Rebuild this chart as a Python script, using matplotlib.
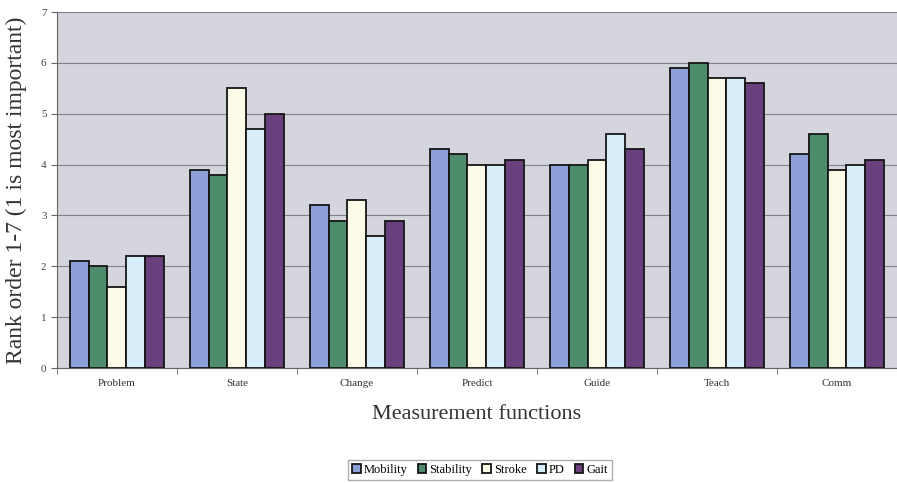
import numpy as np
import matplotlib.pyplot as plt
from matplotlib.ticker import FixedLocator

plt.rcParams['font.family'] = ['Liberation Serif', 'DejaVu Serif']

categories = ['Problem', 'State', 'Change', 'Predict', 'Guide', 'Teach', 'Comm']
groups = ['Mobility', 'Stability', 'Stroke', 'PD', 'Gait']
mobility = [2.1, 3.9, 3.2, 4.3, 4.0, 5.9, 4.2]
stability = [2.0, 3.8, 2.9, 4.2, 4.0, 6.0, 4.6]
stroke = [1.6, 5.5, 3.3, 4.0, 4.1, 5.7, 3.9]
pd_vals = [2.2, 4.7, 2.6, 4.0, 4.6, 5.7, 4.0]
gait = [2.2, 5.0, 2.9, 4.1, 4.3, 5.6, 4.1]
colors = ['#8c9fd8', '#4e8d6b', '#fbfbe8', '#d8eef8', '#6a3f7d']

series = [mobility, stability, stroke, pd_vals, gait]

fig = plt.figure(figsize=(8.97, 4.83), dpi=100)
ax = fig.add_axes([0.0635, 0.238, 0.9365, 0.737])
ax.set_facecolor('#d5d5dd')

x = np.arange(len(categories))
w = 0.158
for i, (vals, c) in enumerate(zip(series, colors)):
    ax.bar(x + (i - 2) * w, vals, w, color=c, edgecolor='#151515',
           linewidth=1.3, label=groups[i], zorder=3)

ax.set_xlim(-0.5, 6.5)
ax.set_ylim(0, 7)
ax.set_yticks(range(8))
ax.yaxis.grid(True, color='#80808c', linewidth=0.8, zorder=0)
ax.set_xticks(x)
ax.set_xticklabels(categories, fontsize=8, color='#333333')
ax.tick_params(axis='x', length=0, pad=8)
ax.xaxis.set_minor_locator(FixedLocator(np.arange(-0.5, 7, 1)))
ax.tick_params(axis='x', which='minor', length=4, color='#666666')
ax.tick_params(axis='y', labelsize=8, length=4, color='#666666', labelcolor='#444444')
for s in ['top', 'right']:
    ax.spines[s].set_visible(False)
ax.spines['left'].set_color('#666666')
ax.spines['bottom'].set_color('#666666')

ax.set_ylabel('Rank order 1-7 (1 is most important)', fontsize=17, labelpad=10,
              color='#333333')
ax.set_xlabel('Measurement functions', fontsize=16, labelpad=12, color='#333333')

fig.legend(loc='center', bbox_to_anchor=(0.535, 0.027), ncol=5, fontsize=9,
           frameon=True, fancybox=False, edgecolor='#999999',
           handlelength=0.7, handleheight=0.7, handletextpad=0.25,
           columnspacing=0.8, borderpad=0.35)

plt.savefig('out.png', dpi=100)
